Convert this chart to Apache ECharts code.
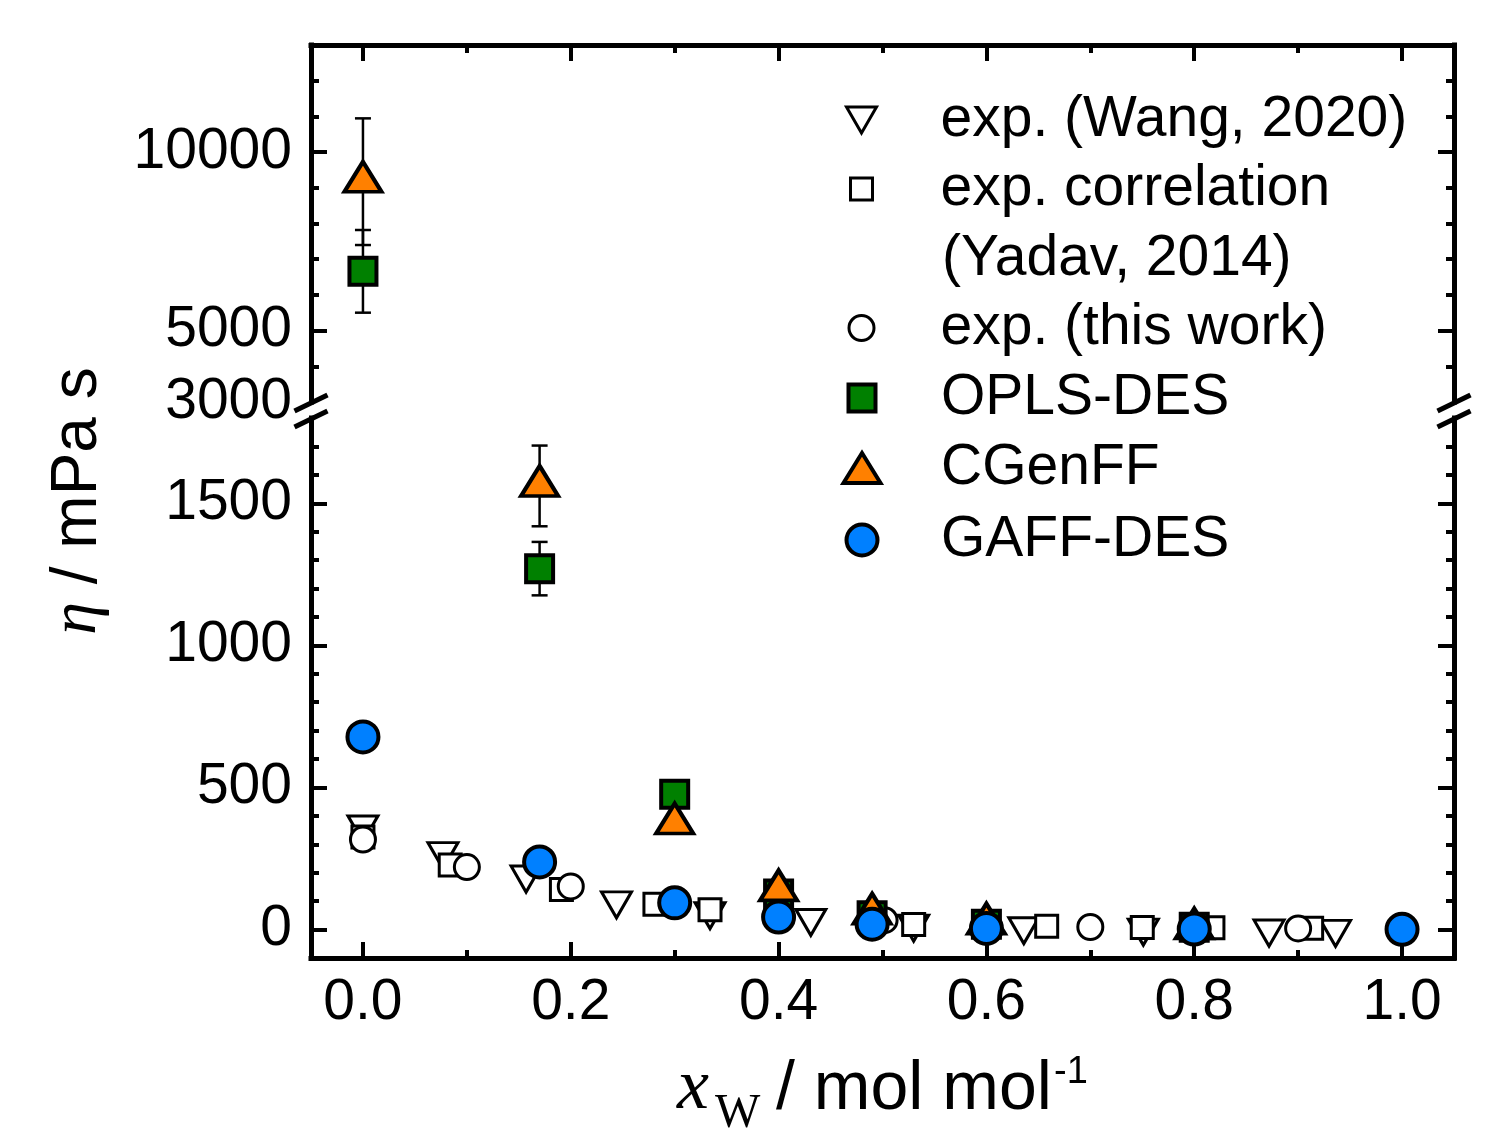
<!DOCTYPE html>
<html>
<head>
<meta charset="utf-8">
<script src="https://cdn.jsdelivr.net/npm/echarts@6/dist/echarts.min.js"></script>
<style>html,body{margin:0;background:#fff}#c{width:1508px;height:1135px}</style>
</head>
<body>
<div id="c"></div>
<script>
// viscosity (mPa s) vs water mole fraction
const wangX = [0, 0.077, 0.157, 0.244, 0.334, 0.431, 0.530, 0.636, 0.751, 0.872, 0.936];
const wangY = [368, 274, 192, 101, 63, 39, 19, 10, 5, 2, 1];
const yadavX = [0, 0.084, 0.191, 0.281, 0.334, 0.530, 0.658, 0.750, 0.818, 0.913];
const yadavY = [326, 227, 141, 89, 70, 18, 12, 7, 6, 5];
const thisX = [0, 0.100, 0.200, 0.502, 0.700, 0.900];
const thisY = [317, 220, 152, 33, 9, 4];
const simX = [0, 0.17, 0.3, 0.4, 0.49, 0.6, 0.8];
const oplsY = [6660, 1270, 476, 125, 49, 19, 8];
const oplsErr = [1158, 94, 25, 12, 8, 4, 2];
const cgenY = [9171, 1561, 373, 138, 56, 21, 4];
const cgenErr = [1774, 142, 30, 15, 10, 5, 2];
const gaffX = [0, 0.17, 0.3, 0.4, 0.49, 0.6, 0.8, 1.0];
const gaffY = [678, 238, 94, 44, 19, 4, 2, 1];

// ticks
const xMajor = [0, 0.2, 0.4, 0.6, 0.8, 1.0];
const xMinor = [0.1, 0.3, 0.5, 0.7, 0.9];
const upLabels = [3000, 5000, 10000];
const upMajor = [5000, 10000];
const upMinor = [4000, 6000, 7000, 8000, 9000, 11000, 12000];
const loLabels = [0, 500, 1000, 1500];
const loMajor = [0, 500, 1000, 1500];
const loMinor = [100, 200, 300, 400, 600, 700, 800, 900, 1100, 1200, 1300, 1400, 1600, 1700];

const BREAK = 2500;
const FONT = 'Liberation Sans';

function xAx(grid, pos, ticks, len, labels, line) {
  return {
    type: 'value', gridIndex: grid, position: pos, min: -0.05, max: 1.05,
    axisLine: { show: line, onZero: false, lineStyle: { color: '#000', width: 5, cap: 'square' } },
    axisTick: { show: true, inside: true, length: len, customValues: ticks, lineStyle: { color: '#000', width: 4 } },
    axisLabel: labels ? { show: true, customValues: ticks, formatter: v => v.toFixed(1), color: '#000',
      fontFamily: FONT, fontSize: 57, margin: 17 } : { show: false },
    splitLine: { show: false }
  };
}
function yAx(grid, pos, min, max, ticks, len, labels, line) {
  return {
    type: 'value', gridIndex: grid, position: pos, min: min, max: max,
    axisLine: { show: line, onZero: false, lineStyle: { color: '#000', width: 5, cap: 'square' } },
    axisTick: { show: true, inside: true, length: len, customValues: ticks, lineStyle: { color: '#000', width: 4 } },
    axisLabel: labels ? { show: true, customValues: labels, formatter: v => String(v), color: '#000',
      fontFamily: FONT, fontSize: 57, margin: 19 } : { show: false },
    splitLine: { show: false }
  };
}

const wangSym = { symbol: 'triangle', symbolRotate: 180, symbolSize: [30, 26], symbolOffset: [0, 4],
  itemStyle: { color: '#fff', borderColor: '#000', borderWidth: 3, opacity: 1 } };
const yadavSym = { symbol: 'rect', symbolSize: 22,
  itemStyle: { color: '#fff', borderColor: '#000', borderWidth: 3, opacity: 1 } };
const thisSym = { symbol: 'circle', symbolSize: 25,
  itemStyle: { color: '#fff', borderColor: '#000', borderWidth: 3, opacity: 1 } };
const oplsSym = { symbol: 'rect', symbolSize: 27,
  itemStyle: { color: '#008000', borderColor: '#000', borderWidth: 4, opacity: 1 } };
const cgenSym = { symbol: 'triangle', symbolSize: [37, 30], symbolOffset: [0, -5],
  itemStyle: { color: '#ff8000', borderColor: '#000', borderWidth: 4, opacity: 1 } };
const gaffSym = { symbol: 'circle', symbolSize: 31,
  itemStyle: { color: '#0080ff', borderColor: '#000', borderWidth: 4, opacity: 1 } };

function scatter(name, xs, ys, sym, upper) {
  const data = xs.map((x, i) => [x, ys[i]]).filter(p => upper ? p[1] > BREAK : p[1] <= BREAK);
  return Object.assign({ type: 'scatter', name: name, data: data,
    xAxisIndex: upper ? 0 : 2, yAxisIndex: upper ? 0 : 4, silent: true }, sym);
}

function errBars(xs, ys, es, upper) {
  const data = xs.map((x, i) => [x, ys[i], es[i]]).filter(p => upper ? p[1] > BREAK : p[1] <= BREAK);
  return {
    type: 'custom', data: data, xAxisIndex: upper ? 0 : 2, yAxisIndex: upper ? 0 : 4,
    silent: true, encode: { x: 0, y: 1 },
    renderItem: function (params, api) {
      const x = api.value(0), y = api.value(1), e = api.value(2);
      const t = api.coord([x, y + e]), b = api.coord([x, y - e]);
      const cw = 8, st = { stroke: '#000', lineWidth: 2.5 };
      return { type: 'group', children: [
        { type: 'line', shape: { x1: t[0], y1: t[1], x2: b[0], y2: b[1] }, style: st },
        { type: 'line', shape: { x1: t[0] - cw, y1: t[1], x2: t[0] + cw, y2: t[1] }, style: st },
        { type: 'line', shape: { x1: b[0] - cw, y1: b[1], x2: b[0] + cw, y2: b[1] }, style: st }
      ] };
    }
  };
}

const series = [
  errBars(simX, oplsY, oplsErr, true), errBars(simX, oplsY, oplsErr, false),
  errBars(simX, cgenY, cgenErr, true), errBars(simX, cgenY, cgenErr, false)
];
[
  ['exp. (Wang, 2020)', wangX, wangY, wangSym],
  ['exp. correlation', yadavX, yadavY, yadavSym],
  ['exp. (this work)', thisX, thisY, thisSym],
  ['OPLS-DES', simX, oplsY, oplsSym],
  ['CGenFF', simX, cgenY, cgenSym],
  ['GAFF-DES', gaffX, gaffY, gaffSym]
].forEach(s => {
  series.push(scatter(s[0], s[1], s[2], s[3], true));
  series.push(scatter(s[0], s[1], s[2], s[3], false));
});

function legendItem(name, w, h, bw, rowY, icon) {
  return {
    data: [icon ? { name: name, icon: icon } : name], left: 860 - w / 2, top: rowY - 32, padding: 0,
    itemWidth: w, itemHeight: h, selectedMode: false,
    itemStyle: { borderWidth: bw },
    textStyle: { fontFamily: FONT, fontSize: 57, color: '#000', lineHeight: 60, padding: [4, 0, 0, 74 - w / 2] }
  };
}

// axis break marks
function slash(cx, cy) {
  return { type: 'line', shape: { x1: cx - 16.5, y1: cy + 8, x2: cx + 16.5, y2: cy - 8 },
    style: { stroke: '#000', lineWidth: 5 }, z: 100 };
}

const chart = echarts.init(document.getElementById('c'), null, { renderer: 'canvas' });
chart.setOption({
  animation: false,
  backgroundColor: '#fff',
  grid: [
    { left: 311, width: 1143, top: 45, height: 357 },
    { left: 311, width: 1143, top: 418, height: 540 }
  ],
  xAxis: [
    xAx(0, 'top', xMajor, 16, false, true),
    xAx(0, 'top', xMinor, 8, false, false),
    xAx(1, 'bottom', xMajor, 16, true, true),
    xAx(1, 'bottom', xMinor, 8, false, false)
  ],
  yAxis: [
    yAx(0, 'left', 3000, 13000, upMajor, 16, upLabels, true),
    yAx(0, 'left', 3000, 13000, upMinor, 8, null, false),
    yAx(0, 'right', 3000, 13000, upMajor, 16, null, true),
    yAx(0, 'right', 3000, 13000, upMinor, 8, null, false),
    yAx(1, 'left', -100, 1800, loMajor, 16, loLabels, true),
    yAx(1, 'left', -100, 1800, loMinor, 8, null, false),
    yAx(1, 'right', -100, 1800, loMajor, 16, null, true),
    yAx(1, 'right', -100, 1800, loMinor, 8, null, false)
  ],
  legend: [
    legendItem('exp. (Wang, 2020)', 30, 26, 3, 120, 'path://M0,0L30,0L15,26Z'),
    legendItem('exp. correlation', 22, 22, 3, 189),
    legendItem('exp. (this work)', 25, 25, 3, 328),
    legendItem('OPLS-DES', 27, 27, 4, 398),
    legendItem('CGenFF', 37, 30, 4, 468),
    legendItem('GAFF-DES', 31, 31, 4, 540)
  ],
  series: series,
  graphic: [
    slash(311, 403), slash(311, 419), slash(1454, 403), slash(1454, 419),
    { type: 'text', left: 942, top: 231, style: { text: '(Yadav, 2014)', font: '57px "Liberation Sans"', fill: '#000' } },
    { type: 'text', x: 78, y: 501, rotation: Math.PI / 2,
      style: { text: '{a|η}{b| / mPa s}', align: 'center', verticalAlign: 'middle',
        rich: { a: { fontFamily: 'Liberation Serif', fontStyle: 'italic', fontSize: 66, fill: '#000' },
                b: { fontFamily: FONT, fontSize: 64, fill: '#000' } } } },
    { type: 'text', x: 677, y: 1089, style: { text: 'x', font: 'italic 72px "Liberation Serif"', fill: '#000', verticalAlign: 'middle' } },
    { type: 'text', x: 715, y: 1114, style: { text: 'W', font: '48px "Liberation Serif"', fill: '#000', verticalAlign: 'middle' } },
    { type: 'text', x: 776, y: 1090, style: { text: '/ mol mol', font: '68px "Liberation Sans"', fill: '#000', verticalAlign: 'middle' } },
    { type: 'text', x: 1054, y: 1073, style: { text: '-1', font: '38px "Liberation Sans"', fill: '#000', verticalAlign: 'middle' } }
  ]
});
</script>
</body>
</html>
